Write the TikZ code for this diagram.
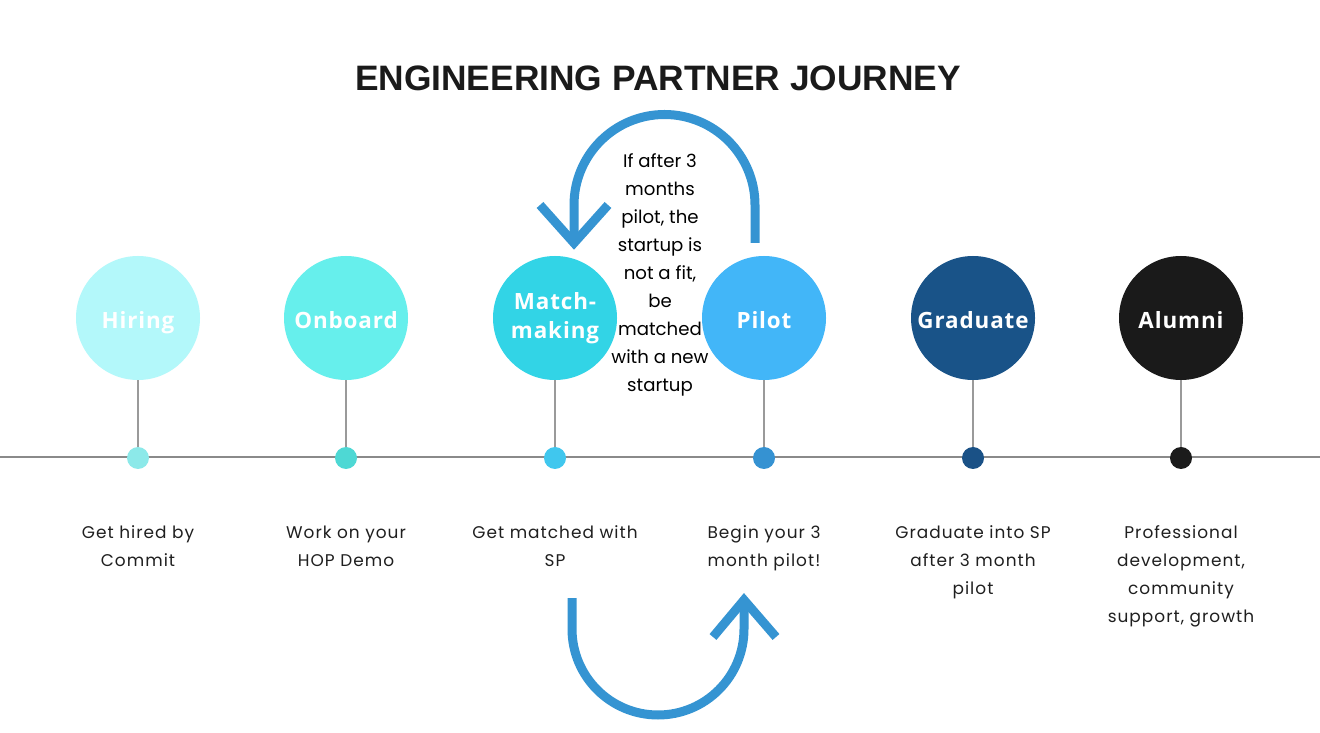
\documentclass[tikz,border=0pt]{standalone}
\usepackage{fontspec}
\setmainfont{Poppins}
\newfontfamily\titlefont{Liberation Sans}
\newfontfamily\labelfont{Open Sans}[LetterSpace=4]
\newfontfamily\stepfont{Poppins}[LetterSpace=6]
\definecolor{hiringc}{HTML}{B3F8FA}
\definecolor{onboardc}{HTML}{66EFEC}
\definecolor{matchc}{HTML}{32D4E6}
\definecolor{pilotc}{HTML}{42B6F8}
\definecolor{gradc}{HTML}{195388}
\definecolor{alumnic}{HTML}{1A1A1A}
\definecolor{hiringd}{HTML}{8CE9E9}
\definecolor{onboardd}{HTML}{4ED8D4}
\definecolor{matchd}{HTML}{40C7EE}
\definecolor{pilotd}{HTML}{3592D2}
\definecolor{gradd}{HTML}{1A5186}
\definecolor{alumnid}{HTML}{1B1B1B}
\definecolor{loopblue}{HTML}{3594D2}
\definecolor{stemgray}{HTML}{9A9A9A}
\definecolor{axisgray}{HTML}{8A8A8A}
\definecolor{inkgray}{HTML}{1F1F1F}
\newcommand{\stagetext}[1]{\raisebox{-8pt}[0pt][0pt]{#1}}
\tikzset{
  stage/.style={circle,minimum size=93pt,inner sep=0pt,align=center,text=white,
    font=\labelfont\bfseries\fontsize{16.8}{22}\selectfont},
  dot/.style={circle,minimum size=16.5pt,inner sep=0pt},
  stem/.style={draw=stemgray,line width=1.1pt},
  caption/.style={anchor=north,align=center,text=inkgray,
    font=\stepfont\fontsize{12.7}{21}\selectfont},
  looparrow/.style={draw=loopblue,line width=6.75pt,line join=miter}
}
\begin{document}
\begin{tikzpicture}[x=0.75pt,y=0.75pt]
\useasboundingbox (0,0) rectangle (1320,732);
\fill[white] (0,0) rectangle (1320,732);
\node[font=\titlefont\bfseries\fontsize{26.5}{30}\selectfont,text=alumnic] (title) at (658,654) {ENGINEERING PARTNER JOURNEY};
% timeline
\draw[axisgray,line width=0.8pt] (0,275) -- (1320,275);
% stages
\node[stage,fill=hiringc] (hiring) at (138,414) {\stagetext{Hiring}};
\node[stage,fill=onboardc] (onboard) at (346,414) {\stagetext{Onboard}};
\node[stage,fill=matchc] (match) at (555,414) {Match-\\making};
\node[stage,fill=pilotc] (pilot) at (764,414) {\stagetext{Pilot}};
\node[stage,fill=gradc] (grad) at (973,414) {\stagetext{Graduate}};
\node[stage,fill=alumnic] (alumni) at (1181,414) {\stagetext{Alumni}};
\node[dot,fill=hiringd] (d1) at (138,274) {};
\node[dot,fill=onboardd] (d2) at (346,274) {};
\node[dot,fill=matchd] (d3) at (555,274) {};
\node[dot,fill=pilotd] (d4) at (764,274) {};
\node[dot,fill=gradd] (d5) at (973,274) {};
\node[dot,fill=alumnid] (d6) at (1181,274) {};
\draw[stem] (hiring) -- (d1);
\draw[stem] (onboard) -- (d2);
\draw[stem] (match) -- (d3);
\draw[stem] (pilot) -- (d4);
\draw[stem] (grad) -- (d5);
\draw[stem] (alumni) -- (d6);
% captions
\node[caption] (c1) at (138,211) {Get hired by\\Commit};
\node[caption] (c2) at (346,211) {Work on your\\HOP Demo};
\node[caption] (c3) at (555,211) {Get matched with\\SP};
\node[caption] (c4) at (764,211) {Begin your 3\\month pilot!};
\node[caption] (c5) at (973,211) {Graduate into SP\\after 3 month\\pilot};
\node[caption] (c6) at (1181,211) {Professional\\development,\\community\\support, growth};
% not a fit: back to matchmaking
\node[align=center,font=\fontsize{13.6}{21}\selectfont,text=black] (nofit) at (660,457)
  {If after 3\\months\\pilot, the\\startup is\\not a fit,\\be\\matched\\with a new\\startup};
\coordinate (backstart) at (755,489);
\coordinate (backtip) at (574,489);
\draw[looparrow] (backstart) -- (755,527) arc (0:180:90.5) -- (backtip);
\draw[looparrow] (backtip) ++(-34,38) -- (backtip) -- ++(34,38);
% move on to pilot
\coordinate (nextstart) at (572,134);
\coordinate (nexttip) at (744,132);
\draw[looparrow] (nextstart) -- (572,103) arc (180:360:86) -- (nexttip);
\draw[looparrow] (nexttip) ++(-31,-37) -- (nexttip) -- ++(32,-37);
\end{tikzpicture}
\end{document}
